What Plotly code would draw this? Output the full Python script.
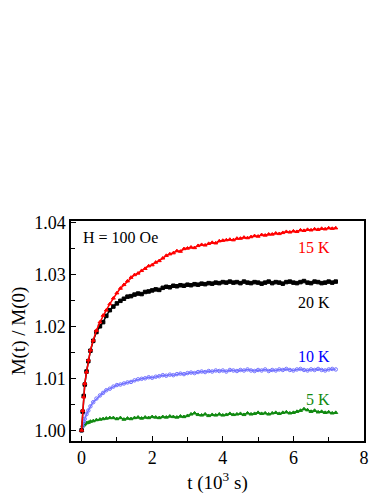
import plotly.graph_objects as go

# time in 10^3 s
t = [0, 0.03, 0.06, 0.09, 0.14, 0.19, 0.25, 0.33, 0.42, 0.52, 0.61, 0.7, 0.8, 0.9,
     1.0, 1.1, 1.2, 1.3, 1.4, 1.5, 1.6, 1.7, 1.8, 1.9,
     2.0, 2.1, 2.2, 2.3, 2.4, 2.5, 2.6, 2.7, 2.8, 2.9,
     3.0, 3.1, 3.2, 3.3, 3.4, 3.5, 3.6, 3.7, 3.8, 3.9,
     4.0, 4.1, 4.2, 4.3, 4.4, 4.5, 4.6, 4.7, 4.8, 4.9,
     5.0, 5.1, 5.2, 5.3, 5.4, 5.5, 5.6, 5.7, 5.8, 5.9,
     6.0, 6.1, 6.2, 6.3, 6.4, 6.5, 6.6, 6.7, 6.8, 6.9,
     7.0, 7.1, 7.2]

m_15K = [1.0000, 1.0038, 1.0064, 1.0090, 1.0112, 1.0135, 1.0154, 1.0173, 1.0192, 1.0208, 1.0221, 1.0231, 1.0243, 1.0254,
         1.0264, 1.0273, 1.0280, 1.0287, 1.0294, 1.0299, 1.0302, 1.0307, 1.0311, 1.0316,
         1.0318, 1.0323, 1.0326, 1.0331, 1.0336, 1.0339, 1.0341, 1.0345, 1.0344, 1.0349,
         1.0350, 1.0352, 1.0351, 1.0355, 1.0357, 1.0356, 1.0359, 1.0361, 1.0360, 1.0364,
         1.0365, 1.0366, 1.0367, 1.0366, 1.0369, 1.0369, 1.0371, 1.0370, 1.0372, 1.0374,
         1.0373, 1.0376, 1.0375, 1.0377, 1.0377, 1.0379, 1.0378, 1.0380, 1.0382, 1.0381,
         1.0383, 1.0382, 1.0385, 1.0384, 1.0386, 1.0385, 1.0387, 1.0386, 1.0388, 1.0387,
         1.0389, 1.0388, 1.0389]

m_20K = [1.0000, 1.0036, 1.0066, 1.0088, 1.0113, 1.0133, 1.0153, 1.0172, 1.0189, 1.0200, 1.0208, 1.0220, 1.0231, 1.0238,
         1.0244, 1.0249, 1.0253, 1.0257, 1.0258, 1.0261, 1.0263, 1.0262, 1.0266, 1.0267,
         1.0269, 1.0271, 1.0270, 1.0274, 1.0276, 1.0275, 1.0278, 1.0277, 1.0279, 1.0278,
         1.0280, 1.0279, 1.0281, 1.0280, 1.0282, 1.0281, 1.0283, 1.0282, 1.0284, 1.0283,
         1.0285, 1.0284, 1.0286, 1.0284, 1.0285, 1.0283, 1.0286, 1.0284, 1.0283, 1.0285,
         1.0284, 1.0282, 1.0284, 1.0286, 1.0283, 1.0285, 1.0284, 1.0282, 1.0285, 1.0286,
         1.0284, 1.0283, 1.0285, 1.0287, 1.0284, 1.0283, 1.0286, 1.0285, 1.0283, 1.0284,
         1.0286, 1.0284, 1.0286]

m_10K = [1.0000, 1.0008, 1.0016, 1.0022, 1.0031, 1.0038, 1.0046, 1.0054, 1.0061, 1.0067, 1.0072, 1.0077, 1.0080, 1.0084,
         1.0087, 1.0088, 1.0090, 1.0092, 1.0093, 1.0096, 1.0098, 1.0099, 1.0100, 1.0102,
         1.0101, 1.0103, 1.0104, 1.0106, 1.0105, 1.0107, 1.0106, 1.0108, 1.0109, 1.0108,
         1.0110, 1.0111, 1.0110, 1.0112, 1.0113, 1.0112, 1.0114, 1.0113, 1.0115, 1.0114,
         1.0115, 1.0113, 1.0116, 1.0115, 1.0114, 1.0116, 1.0115, 1.0117, 1.0115, 1.0114,
         1.0116, 1.0115, 1.0117, 1.0114, 1.0116, 1.0115, 1.0117, 1.0116, 1.0118, 1.0116,
         1.0115, 1.0117, 1.0118, 1.0116, 1.0115, 1.0117, 1.0116, 1.0118, 1.0116, 1.0115,
         1.0117, 1.0118, 1.0117]

m_5K = [1.0000, 1.0008, 1.0010, 1.0012, 1.0014, 1.0015, 1.0017, 1.0018, 1.0020, 1.0021, 1.0022, 1.0023, 1.0024, 1.0024,
        1.0022, 1.0024, 1.0021, 1.0023, 1.0022, 1.0024, 1.0025, 1.0023, 1.0025, 1.0024,
        1.0026, 1.0025, 1.0024, 1.0026, 1.0025, 1.0027, 1.0026, 1.0025, 1.0027, 1.0026,
        1.0028, 1.0031, 1.0033, 1.0030, 1.0029, 1.0031, 1.0028, 1.0030, 1.0029, 1.0031,
        1.0029, 1.0030, 1.0032, 1.0030, 1.0031, 1.0032, 1.0030, 1.0033, 1.0031, 1.0032,
        1.0034, 1.0032, 1.0033, 1.0031, 1.0033, 1.0034, 1.0032, 1.0034, 1.0035, 1.0033,
        1.0034, 1.0036, 1.0038, 1.0041, 1.0039, 1.0036, 1.0038, 1.0035, 1.0036, 1.0034,
        1.0035, 1.0033, 1.0034]

# curve labels and where they sit (data coords)
labels = ["5 K", "10 K", "20 K", "15 K"]
label_y = [1.0059, 1.0141, 1.0246, 1.0352]

FONT = "Liberation Serif"

fig = go.Figure()

# series drawn back to front: 5 K, 10 K, 20 K, 15 K
series = [
    (m_5K, "#118a11", "triangle-up", "#108a10"),
    (m_10K, "#7373ff", "circle-open", "#0000ff"),
    (m_20K, "black", "square", "black"),
    (m_15K, "#ff0000", "triangle-up", "#ff0000"),
]
for (vals, col, sym, lab_col), name, ylab in zip(series, labels, label_y):
    fig.add_trace(go.Scatter(
        x=t, y=vals, mode="lines+markers", name=name,
        line=dict(color=col, width=1.5),
        marker=dict(color=col, symbol=sym, size=3.5,
                    line=dict(color=col, width=1)),
        showlegend=False))
    fig.add_annotation(x=7.08, y=ylab, text=name, showarrow=False,
                       xanchor="right", yanchor="middle",
                       font=dict(family=FONT, size=16, color=lab_col))

fig.add_annotation(x=0.035, y=0.975, xref="paper", yref="paper", text="H = 100 Oe",
                   showarrow=False, xanchor="left", yanchor="top",
                   font=dict(family=FONT, size=16, color="black"))

# the page body adds 8 px on the left and top, so the figure is 8 px smaller
fig.update_layout(
    width=374, height=486,
    margin=dict(l=63, r=18, t=213, b=53),
    paper_bgcolor="white", plot_bgcolor="white",
    font=dict(family=FONT, size=18, color="black"),
    xaxis=dict(
        range=[-0.3, 8], tickvals=[0, 2, 4, 6, 8], ticks="inside", ticklen=5,
        tickwidth=1, tickcolor="black", automargin=False,
        minor=dict(tickvals=[1, 3, 5, 7], ticks="inside", ticklen=4, tickcolor="black"),
        showline=True, linecolor="black", linewidth=1.5, mirror=True,
        showgrid=False, zeroline=False,
        title=dict(text="t (10<sup>3</sup> s)", font=dict(family=FONT, size=19), standoff=10),
    ),
    yaxis=dict(
        range=[0.99794, 1.04025], tickvals=[1.00, 1.01, 1.02, 1.03, 1.04],
        ticktext=["1.00", "1.01", "1.02", "1.03", "1.04"],
        ticks="inside", ticklen=5, tickwidth=1, tickcolor="black", automargin=False,
        minor=dict(tickvals=[1.005, 1.015, 1.025, 1.035], ticks="inside", ticklen=4,
                   tickcolor="black"),
        showline=True, linecolor="black", linewidth=1.5, mirror=True,
        showgrid=False, zeroline=False,
        title=dict(text="M(t) / M(0)", font=dict(family=FONT, size=19), standoff=15),
    ),
)

fig.write_html("out.html")
